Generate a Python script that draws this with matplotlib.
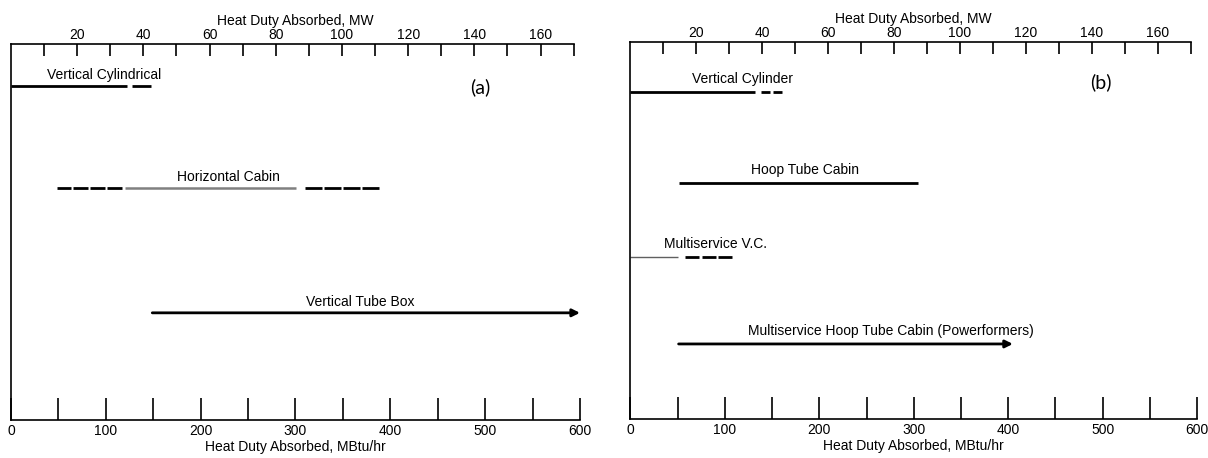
import matplotlib
matplotlib.use('Agg')
from matplotlib import pyplot as plt

plt.rcParams['font.family'] = ['Liberation Sans', 'DejaVu Sans']

# MBtu/hr per MW, as the original figure is drawn
MW_SCALE = 3.49

# panel (a) - furnace ranges, MBtu/hr
a_types = ['Vertical Cylindrical', 'Horizontal Cabin', 'Vertical Tube Box']
a_solid_lo = [0, 120, 149]
a_solid_hi = [122, 301, 600]
a_dashed = [[(128, 148)], [(48, 117), (310, 388)], []]

# panel (b)
b_types = ['Vertical Cylinder', 'Hoop Tube Cabin', 'Multiservice V.C.',
           'Multiservice Hoop Tube Cabin (Powerformers)']
b_solid_lo = [0, 51, 0, 51]
b_solid_hi = [132, 304, 50, 405]
b_dashed = [[(138, 161)], [], [(58, 108)], []]

mbtu_ticks = list(range(0, 601, 100))
mbtu_minor = list(range(50, 601, 100))
mw_ticks = list(range(20, 161, 20))
mw_minor = list(range(10, 171, 20))


def dashed_run(ax, d0, d1, y, n, gap=2.5):
    # n even dashes between d0 and d1
    seg = (d1 - d0 - (n - 1) * gap) / n
    for k in range(n):
        s = d0 + k * (seg + gap)
        ax.plot([s, s + seg], [y, y], color='black', lw=2.0,
                solid_capstyle='butt', clip_on=False)


def draw_panel(ax, types, lo, hi, dashed, dash_n, rows, label_x, colors, widths,
               arrows, tag, tag_x, tag_y, lift):
    for i in range(len(types)):
        y = rows[i]
        if arrows[i]:
            ax.annotate('', xy=(hi[i], y), xytext=(lo[i], y),
                        arrowprops=dict(arrowstyle='-|>', color=colors[i], lw=widths[i],
                                        mutation_scale=11, shrinkA=0, shrinkB=0),
                        annotation_clip=False)
        else:
            ax.plot([lo[i], hi[i]], [y, y], color=colors[i], lw=widths[i],
                    solid_capstyle='butt', clip_on=False)
        for (d0, d1), n in zip(dashed[i], dash_n[i]):
            dashed_run(ax, d0, d1, y, n)
        ax.annotate(types[i], (label_x[i], y), xytext=(0, lift), textcoords='offset points',
                    ha='center', va='center', fontsize=10)
    ax.text(tag_x, tag_y, tag, fontsize=14, family=['Lato', 'DejaVu Sans'],
            ha='center', va='center')

    ax.set_xlim(0, 600)
    ax.set_ylim(0, 1)
    ax.spines['top'].set_visible(False)
    ax.spines['right'].set_visible(False)
    ax.spines['left'].set_linewidth(1.2)
    ax.spines['bottom'].set_linewidth(1.2)
    ax.set_xticks(mbtu_ticks)
    ax.set_xticks(mbtu_minor, minor=True)
    ax.tick_params(axis='x', which='both', direction='in', length=15.5, width=1.2,
                   labelsize=10, pad=3)
    ax.tick_params(axis='y', left=False, labelleft=False)
    ax.set_xlabel('Heat Duty Absorbed, MBtu/hr', fontsize=10, labelpad=1)

    # MW scale on top
    top = ax.twiny()
    top.set_xlim(0, 600 / MW_SCALE)
    for s in ['left', 'right', 'bottom']:
        top.spines[s].set_visible(False)
    top.spines['top'].set_bounds(0, 170)
    top.spines['top'].set_linewidth(1.2)
    top.set_xticks(mw_ticks)
    top.set_xticks(mw_minor, minor=True)
    top.tick_params(which='both', direction='in', length=8.5, width=1.2,
                    labelsize=10, pad=1.5)
    top.set_xlabel('Heat Duty Absorbed, MW', fontsize=10, labelpad=2)


fig = plt.figure(figsize=(12.08, 4.58), dpi=100)
ax_a = fig.add_axes([0.0091, 0.0830, 0.4710, 0.8209])
ax_b = fig.add_axes([0.5219, 0.0852, 0.4690, 0.8231])

draw_panel(ax_a, a_types, a_solid_lo, a_solid_hi, a_dashed, [[1], [4, 4], []],
           rows=[0.888, 0.617, 0.285], label_x=[98, 229, 368],
           colors=['black', '#808080', 'black'], widths=[2.0, 1.8, 2.0],
           arrows=[False, False, True], tag='(a)', tag_x=495, tag_y=0.884, lift=8)

draw_panel(ax_b, b_types, b_solid_lo, b_solid_hi, b_dashed, [[2], [], [3], []],
           rows=[0.867, 0.626, 0.430, 0.199], label_x=[119, 185, 90, 276],
           colors=['black', 'black', '#606060', 'black'], widths=[2.0, 2.0, 1.0, 2.0],
           arrows=[False, False, False, True], tag='(b)', tag_x=498, tag_y=0.894, lift=9.5)

fig.savefig('out.png', dpi=100)
